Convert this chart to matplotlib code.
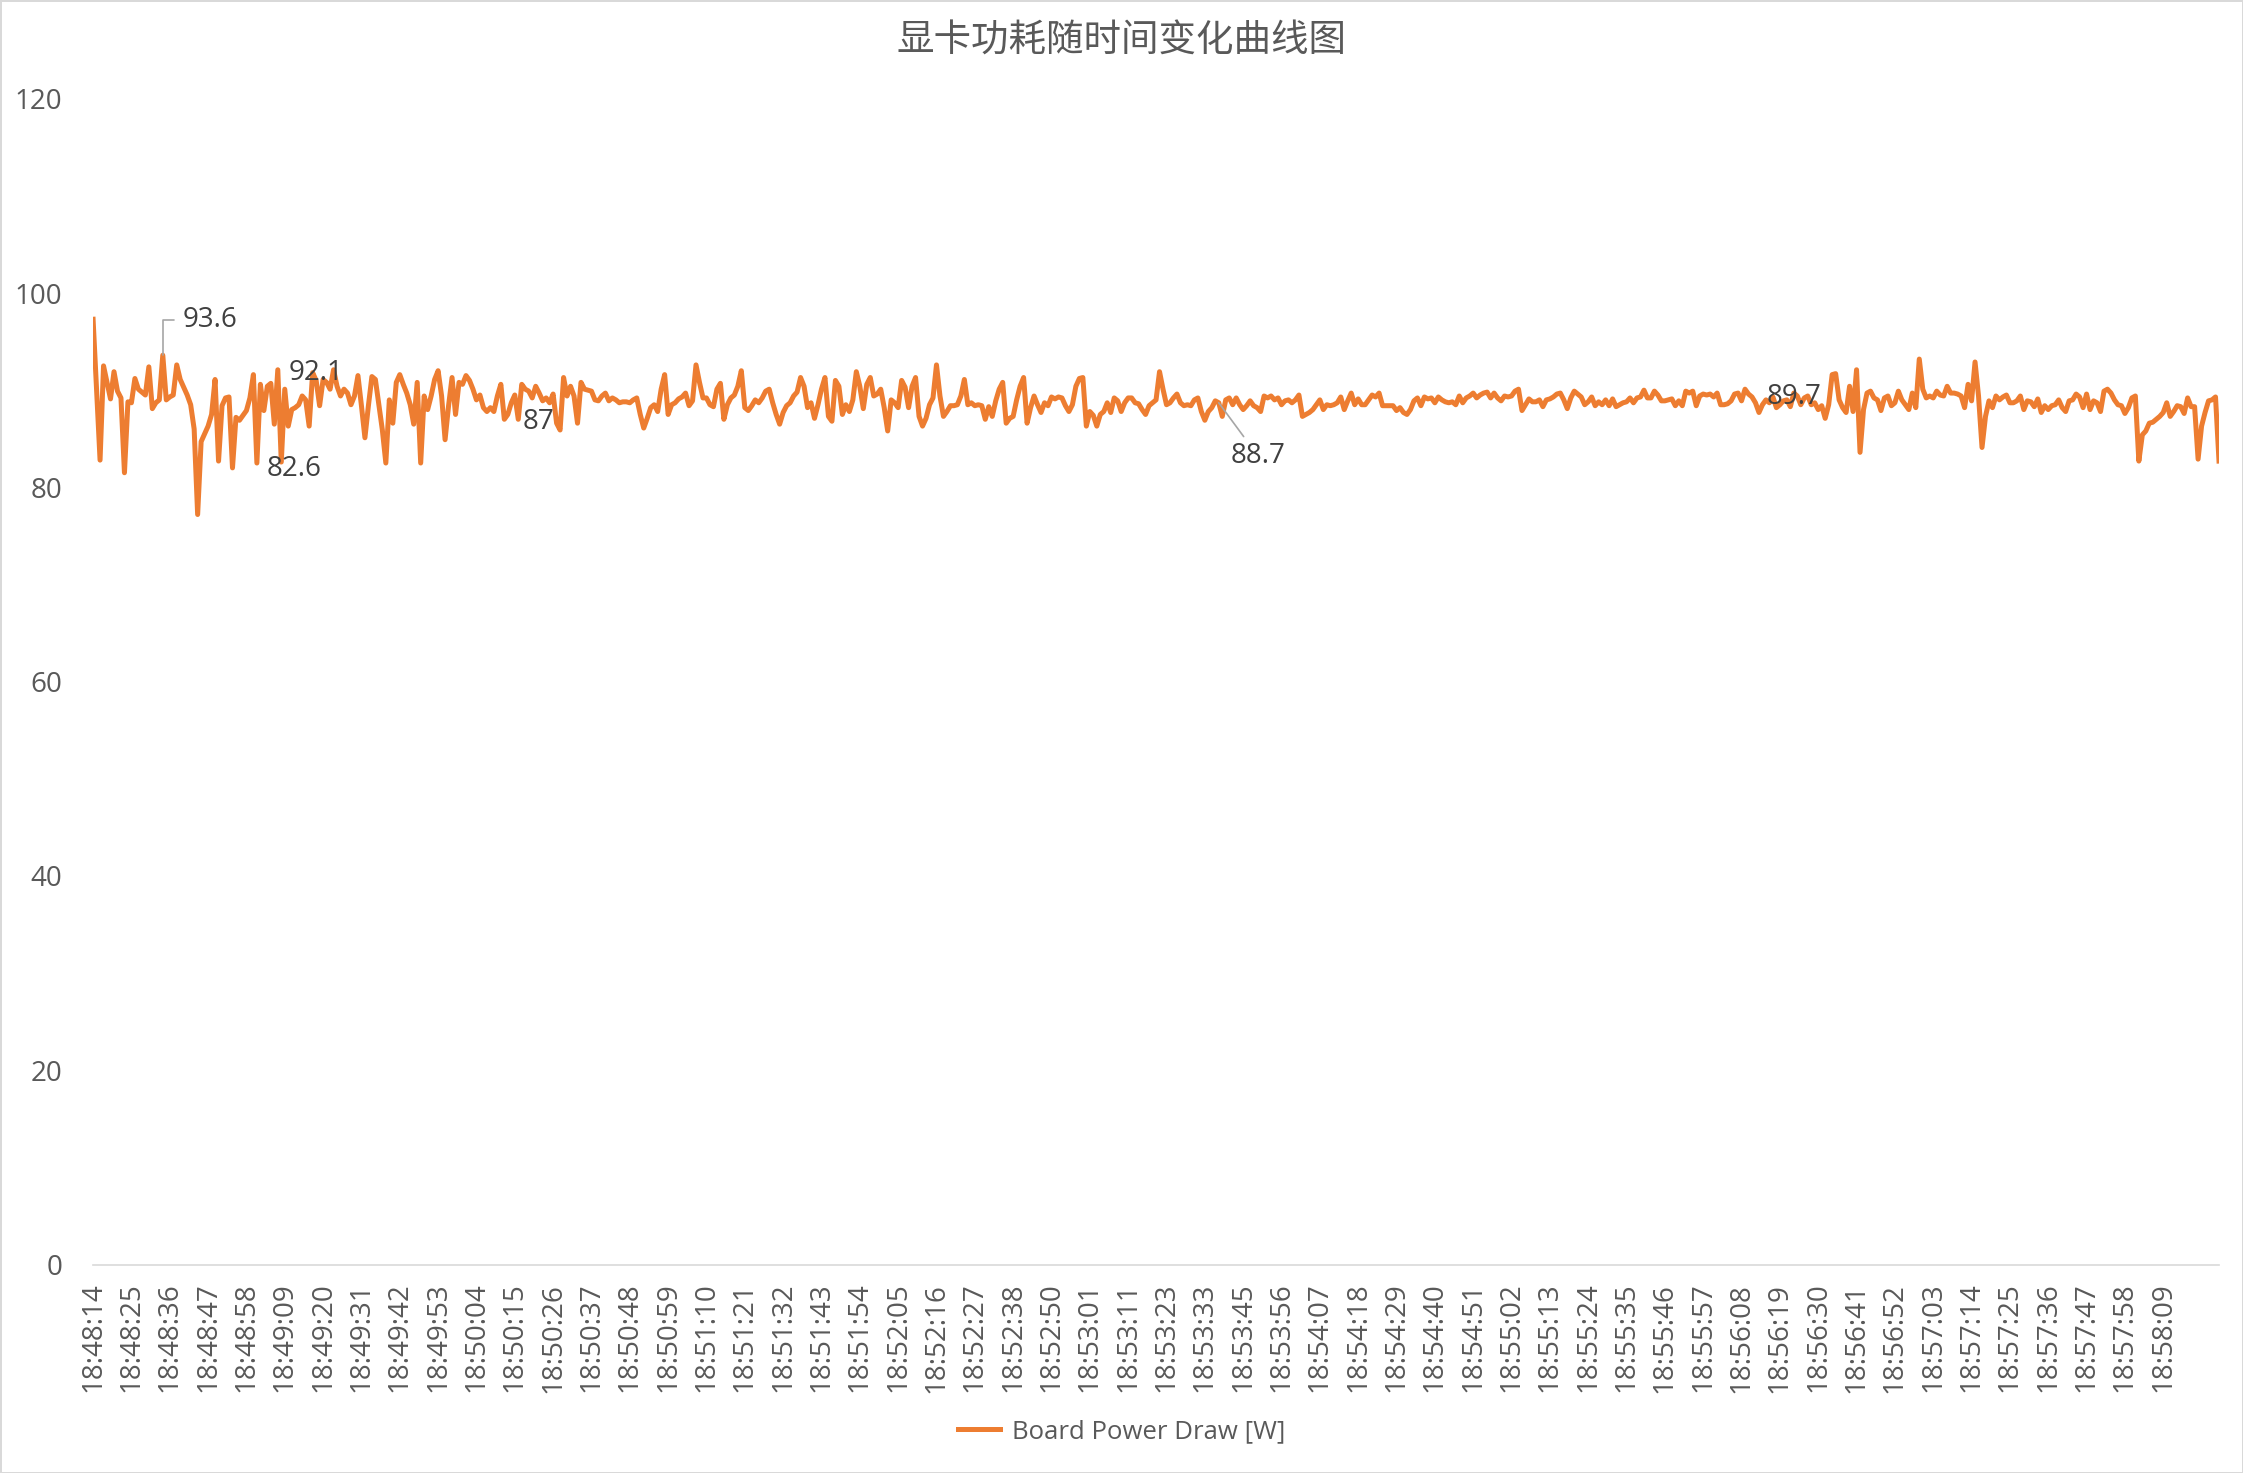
import numpy as np
import matplotlib
matplotlib.use('Agg')
import matplotlib.pyplot as plt

plt.rcParams['font.family'] = ['Open Sans', 'Noto Sans CJK SC', 'DejaVu Sans']

# board power draw samples (W), about one per second from 18:48:14
power_w = [
    97.3, 90.0, 82.8, 92.5, 90.8, 89.1, 91.9, 89.9, 89.2, 81.5, 88.8, 88.7, 91.2, 90.1, 89.8, 89.5,
    92.4, 88.1, 88.7, 89.0, 93.6, 89.0, 89.3, 89.5, 92.6, 91.1, 90.3, 89.5, 88.5, 86.0, 77.2, 84.7,
    85.5, 86.3, 87.5, 91.1, 82.7, 88.4, 89.2, 89.3, 82.0, 87.2, 86.9, 87.4, 87.9, 89.2, 91.6, 82.5,
    90.6, 87.9, 90.4, 90.7, 86.5, 92.1,
    82.6, 90.1, 86.3, 88.0, 88.2, 88.5, 89.4, 89.0, 86.3, 91.8, 91.0, 88.4, 91.1, 90.8, 90.1, 92.1,
    90.4, 89.4, 90.1, 89.7, 88.5, 89.4, 91.5, 88.4, 85.1, 88.4, 91.4, 91.1, 88.5, 85.9, 82.5, 89.0,
    86.6, 90.8, 91.6, 90.6, 89.7, 88.5, 86.5, 90.8, 82.5, 89.4, 88.0, 89.4, 91.1, 92.0, 89.4, 84.9,
    88.4,
    91.3, 87.5, 90.8, 90.6, 91.5, 91.0, 90.1, 89.0, 89.5, 88.2, 87.8, 88.2, 87.8, 89.4, 90.6, 87.0,
    87.5, 88.7, 89.5, 87.0, 90.6, 90.1, 89.9, 89.2, 90.4, 89.7, 88.9, 89.2, 88.7, 89.6, 86.6, 85.9,
    91.3, 89.4, 90.4, 89.4, 86.6, 90.8, 90.1, 90.0, 89.9, 89.0, 88.9, 89.4, 89.7, 88.9, 89.2, 89.0,
    88.7, 88.8, 88.8,
    88.7, 89.0, 89.2, 87.5, 86.1, 87.1, 88.2, 88.5, 87.8, 90.1, 91.6, 87.5, 88.5, 88.7, 89.1, 89.3,
    89.7, 88.4, 88.9, 92.6, 90.8, 89.2, 89.2, 88.5, 88.3, 90.1, 90.7, 87.0, 88.5, 89.2, 89.5, 90.4,
    92.0, 88.2, 87.9, 88.4, 89.0, 88.7, 89.2, 89.9, 90.1, 88.7, 87.5, 86.5, 87.7, 88.4, 88.7, 89.4,
    89.8,
    91.3, 90.4, 88.2, 88.7, 87.1, 88.5, 90.1, 91.3, 87.3, 86.8, 91.0, 90.4, 87.5, 88.5, 87.8, 89.0,
    91.9, 90.4, 88.1, 90.6, 91.3, 89.4, 89.6, 90.1, 88.2, 85.8, 89.0, 88.7, 88.2, 91.0, 90.3, 88.2,
    90.4, 91.3, 87.3, 86.3, 87.1, 88.5, 89.2, 92.6, 89.4, 87.3, 87.8, 88.4, 88.4, 88.5, 89.4, 91.1,
    88.5, 88.7, 88.4, 88.5,
    88.4, 87.0, 88.3, 87.3, 88.9, 90.1, 90.8, 86.6, 87.1, 87.3, 89.0, 90.4, 91.3, 86.6, 88.2, 89.4,
    88.5, 87.7, 88.7, 88.4, 89.3, 89.1, 89.3, 89.2, 88.4, 87.8, 88.5, 90.4, 91.2, 91.3, 86.3, 87.8,
    87.4, 86.3, 87.5, 87.8, 88.7, 87.7, 89.2, 88.9, 87.8, 88.7, 89.2, 89.2, 88.7, 88.6, 88.0, 87.5,
    88.4, 88.7,
    89.0, 91.9, 90.1, 88.5, 88.7, 89.2, 89.6, 88.7, 88.4, 88.5, 88.4, 89.0, 89.2, 87.8, 86.9, 87.8,
    88.2, 88.9, 88.7, 87.3, 89.0, 89.2, 88.5, 89.2, 88.5, 88.0, 88.4, 88.9, 88.4, 88.2, 87.8, 89.4,
    89.2, 89.4, 89.0, 89.2, 88.5, 88.9, 89.0, 88.7, 89.0, 89.5, 87.3, 87.5, 87.7, 88.0, 88.5, 89.0,
    88.0, 88.5, 88.4,
    88.5, 88.7, 89.3, 88.0, 88.9, 89.7, 88.5, 89.1, 88.5, 88.5, 89.0, 89.5, 89.3, 89.7, 88.4, 88.4,
    88.4, 88.4, 87.9, 88.2, 87.7, 87.5, 88.0, 88.9, 89.2, 88.4, 89.3, 89.1, 89.2, 88.7, 89.3, 89.0,
    88.8, 88.7, 88.8, 88.5, 89.4, 88.7, 89.2, 89.4, 89.7, 89.2, 89.5, 89.7, 89.8, 89.2, 89.7, 89.2,
    88.9, 89.4,
    89.3, 89.4, 89.9, 90.1, 87.9, 88.5, 89.1, 88.8, 88.8, 89.0, 88.3, 89.0, 89.1, 89.3, 89.6, 89.7,
    89.0, 88.1, 89.2, 89.9, 89.6, 89.3, 88.5, 88.8, 89.3, 88.4, 88.8, 88.5, 89.0, 88.4, 89.1, 88.3,
    88.5, 88.7, 88.8, 89.2, 88.7, 89.2, 89.3, 90.0, 89.2, 89.2, 89.9, 89.5, 88.9, 88.9, 89.0, 89.1,
    88.4, 88.9, 88.4, 89.9, 89.7,
    89.9, 88.4, 89.4, 89.6, 89.5, 89.6, 89.3, 89.7, 88.5, 88.5, 88.6, 88.9, 89.6, 89.7, 88.9, 90.1,
    89.6, 89.3, 88.7, 87.7, 88.5, 89.0, 88.7, 89.3, 88.2, 88.5, 88.9, 89.0, 88.3, 89.7, 89.4, 88.5,
    89.2, 89.4, 88.5, 88.7, 88.0, 88.4, 87.1, 88.5, 91.6, 91.7, 89.0, 88.2, 87.7, 90.4, 87.8, 92.1,
    83.6, 88.0, 89.7, 89.9, 89.2,
    89.0, 87.9, 89.2, 89.4, 88.4, 88.7, 89.9, 89.0, 88.5, 88.0, 89.7, 88.2, 93.2, 90.1, 89.2, 89.4,
    89.2, 89.9, 89.5, 89.4, 90.4, 89.7, 89.7, 89.6, 89.4, 88.2, 90.6, 88.9, 92.9, 89.4, 84.1, 87.3,
    88.9, 88.2, 89.4, 89.0, 89.3, 89.5, 88.7, 88.7, 88.9, 89.4, 88.0, 88.9, 88.8, 88.3, 89.1, 87.7,
    88.4, 88.0, 88.4,
    88.5, 89.0, 88.2, 87.8, 88.9, 89.0, 89.6, 89.3, 88.2, 89.6, 88.0, 88.9, 88.7, 87.8, 89.9, 90.1,
    89.7, 89.0, 88.5, 88.4, 87.6, 88.2, 89.2, 89.4, 82.7, 85.4, 85.8, 86.6, 86.7, 87.0, 87.3, 87.7,
    88.7, 87.3, 87.8, 88.4, 88.3, 87.6, 89.2, 88.3, 88.3, 82.9, 86.3, 87.7, 88.9, 89.0, 89.3, 82.7,
]

# category labels shown on the axis (every 11th sample)
tick_labels = [
    '18:48:14', '18:48:25', '18:48:36', '18:48:47', '18:48:58', '18:49:09', '18:49:20',
    '18:49:31', '18:49:42', '18:49:53', '18:50:04', '18:50:15', '18:50:26', '18:50:37',
    '18:50:48', '18:50:59', '18:51:10', '18:51:21', '18:51:32', '18:51:43', '18:51:54',
    '18:52:05', '18:52:16', '18:52:27', '18:52:38', '18:52:50', '18:53:01', '18:53:11',
    '18:53:23', '18:53:33', '18:53:45', '18:53:56', '18:54:07', '18:54:18', '18:54:29',
    '18:54:40', '18:54:51', '18:55:02', '18:55:13', '18:55:24', '18:55:35', '18:55:46',
    '18:55:57', '18:56:08', '18:56:19', '18:56:30', '18:56:41', '18:56:52', '18:57:03',
    '18:57:14', '18:57:25', '18:57:36', '18:57:47', '18:57:58', '18:58:09',
]
tick_step = 11

# labelled points: sample index and text offset (points)
label_idx = [20, 53, 54, 122, 323, 488]
label_off = [(14, 25), (8, -2), (9, -5), (3, -2), (28, -38), (0, -3)]

grey = '#595959'
orange = '#ED7D31'

fig = plt.figure(figsize=(22.43, 14.73), dpi=100)
ax = fig.add_axes([0.0415, 0.1415, 0.9478, 0.7915])

xs = np.arange(len(power_w))
line, = ax.plot(xs, power_w, color=orange, lw=3.6, solid_joinstyle='round',
                label='Board Power Draw [W]')

ax.set_xlim(0, len(power_w) - 1)
ax.set_ylim(0, 120)
ax.set_yticks(range(0, 121, 20))
ax.set_xticks(xs[::tick_step][:len(tick_labels)])
ax.set_xticklabels(tick_labels, rotation=90)
ax.tick_params(axis='y', length=0, pad=22, labelsize=20, labelcolor=grey)
ax.tick_params(axis='x', length=0, pad=13, labelsize=20, labelcolor=grey)

for s in ['top', 'right', 'left']:
    ax.spines[s].set_visible(False)
ax.spines['bottom'].set_color('#D9D9D9')
ax.spines['bottom'].set_linewidth(1.2)

for i, (dx, dy) in zip(label_idx, label_off):
    txt = f'{power_w[i]:g}'
    if i == 20:
        ax.annotate(txt, xy=(i, power_w[i]), xytext=(dx, dy), textcoords='offset points',
                    ha='left', va='center', fontsize=20, color='#404040',
                    arrowprops=dict(arrowstyle='-', color='#A6A6A6', lw=1.2, shrinkA=4, shrinkB=0,
                                    connectionstyle='angle,angleA=0,angleB=90,rad=0'))
    elif i == 323:
        ax.annotate(txt, xy=(i, power_w[i]), xytext=(dx, dy), textcoords='offset points',
                    ha='center', va='center', fontsize=20, color='#404040',
                    arrowprops=dict(arrowstyle='-', color='#A6A6A6', lw=1.2, shrinkA=2, shrinkB=0))
    else:
        ha = 'center' if i in (54, 488) else 'left'
        ax.annotate(txt, xy=(i, power_w[i]), xytext=(dx, dy), textcoords='offset points',
                    ha=ha, va='center', fontsize=20, color='#404040')

fig.text(0.5, 0.972, '显卡功耗随时间变化曲线图', ha='center', va='center', fontsize=27, color=grey,
         family=['Noto Sans CJK SC', 'DejaVu Sans'])
fig.legend(handles=[line], loc='center', bbox_to_anchor=(0.5, 0.028), frameon=False,
           fontsize=18.5, labelcolor=grey, handlelength=1.65, handletextpad=0.45)

fig.patch.set_edgecolor('#D9D9D9')
fig.patch.set_linewidth(2)
fig.savefig('out.png', dpi=100, facecolor='white', edgecolor=fig.get_edgecolor())
